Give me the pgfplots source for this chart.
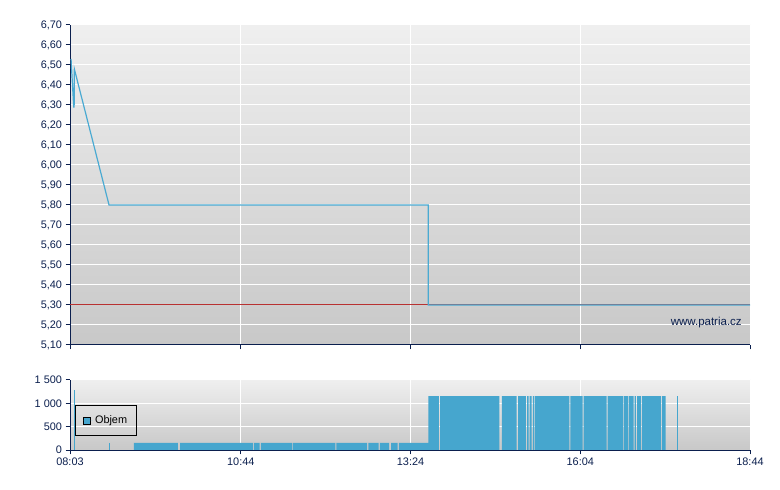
\documentclass[border=0pt]{standalone}
\usepackage{fontspec}
\setmainfont{Liberation Sans}
\usepackage{pgfplots}
\pgfplotsset{compat=1.18}
\definecolor{navy}{HTML}{0B1F4E}
\definecolor{barblue}{HTML}{46A6CE}
\definecolor{lineblue}{HTML}{4AAAD2}
\definecolor{refred}{HTML}{B83232}
\definecolor{bgtop}{HTML}{EFEFEF}
\definecolor{bgbot}{HTML}{C8C8C8}
\pgfplotsset{
  mystyle/.style={
    scale only axis, width=680bp,
    axis background/.style={top color=bgtop,bottom color=bgbot},
    axis x line*=bottom, axis y line*=left,
    axis line style={draw=navy,line width=1bp,-},
    tick style={draw=navy,line width=1bp},
    tick align=outside, major tick length=4.5bp,
    xtick pos=bottom, ytick pos=left,
    grid=major, major grid style={white,line width=1bp},
    xmin=0, xmax=641, xtick={0,161,321,481,641},
    tick label style={font=\fontsize{10.9bp}{12bp}\selectfont, text=navy},
    /pgf/number format/assume math mode=true,
  }
}
\begin{document}
\begin{tikzpicture}
\useasboundingbox (0,0) rectangle (780bp,490bp);
% ---------- price panel ----------
\begin{axis}[mystyle,
  at={(70bp,145bp)}, anchor=south west, height=320bp,
  ymin=5.10, ymax=6.70,
  ytick={5.1,5.2,5.3,5.4,5.5,5.6,5.7,5.8,5.9,6.0,6.1,6.2,6.3,6.4,6.5,6.6,6.7},
  xticklabels={},
  yticklabel style={/pgf/number format/.cd, fixed, fixed zerofill, precision=2, use comma},
]
\addplot[refred, line width=1bp] coordinates {(0,5.30) (641,5.30)};
\addplot[lineblue, line width=1.2bp] coordinates {
  (1,6.53) (3.5,6.29) (3.9,6.29) (4.1,6.48) (36.8,5.80)
  (337.75,5.80) (337.75,5.30) (641,5.30)};
\node[anchor=east, text=navy, font=\fontsize{11.5bp}{13bp}\selectfont]
  at (rel axis cs:0.993,0.069) {www.patria.cz};
\end{axis}
% ---------- volume panel ----------
\begin{axis}[mystyle,
  at={(70bp,40bp)}, anchor=south west, height=70bp,
  ymin=0, ymax=1500,
  ytick={0,500,1000,1500}, yticklabels={0,500,1 000,1 500},
  xticklabels={08:03,10:44,13:24,16:04,18:44},
  legend style={at={(rel axis cs:0.0074,0.643)}, anchor=north west,
    draw=black, fill=none, line width=0.8bp,
    font=\fontsize{10.9bp}{12bp}\selectfont, inner xsep=7.5bp, inner ysep=8.5bp},
]
\addplot[ybar interval, fill=barblue, draw=none,
  legend image code/.code={\draw[fill=barblue,draw=black,line width=0.6bp] (0bp,-3.6bp) rectangle (7.3bp,3.6bp); \path (0bp,0bp) -- (9.8bp,0bp);}]
  coordinates {
  (60.3,155) (101.8,0) (103.7,155) (172.5,0) (173.4,155) (178.8,0)
  (180.0,155) (209.3,0) (210.2,155) (250.1,0) (251.0,155) (280.0,0)
  (281.2,155) (291.0,0) (292.2,155) (300.7,0) (302.6,155) (308.9,0)
  (310.1,155) (337.75,1155) (347.8,0) (348.8,1155) (404.7,0)
  (407.2,1155) (421.1,0) (422.3,1155) (429.8,0) (430.8,1155) (432.4,0)
  (433.3,1155) (435.2,0) (436.4,1155) (437.4,0) (438.3,1155) (470.7,0)
  (471.6,1155) (483.3,0) (484.2,1155) (505.9,0) (506.9,1155) (521.3,0)
  (522.2,1155) (526.0,0) (526.9,1155) (531.4,0) (532.3,1155) (533.5,0)
  (534.5,1155) (538.3,0) (539.2,1155) (557.1,0) (558.1,1155) (561.5,0)
  };
\addlegendentry{Objem}
\addplot[ycomb, barblue, line width=1bp, mark=none, forget plot]
  coordinates {(3.8,1290) (36.8,155) (572.2,1155)};
\end{axis}
\end{tikzpicture}
\end{document}
